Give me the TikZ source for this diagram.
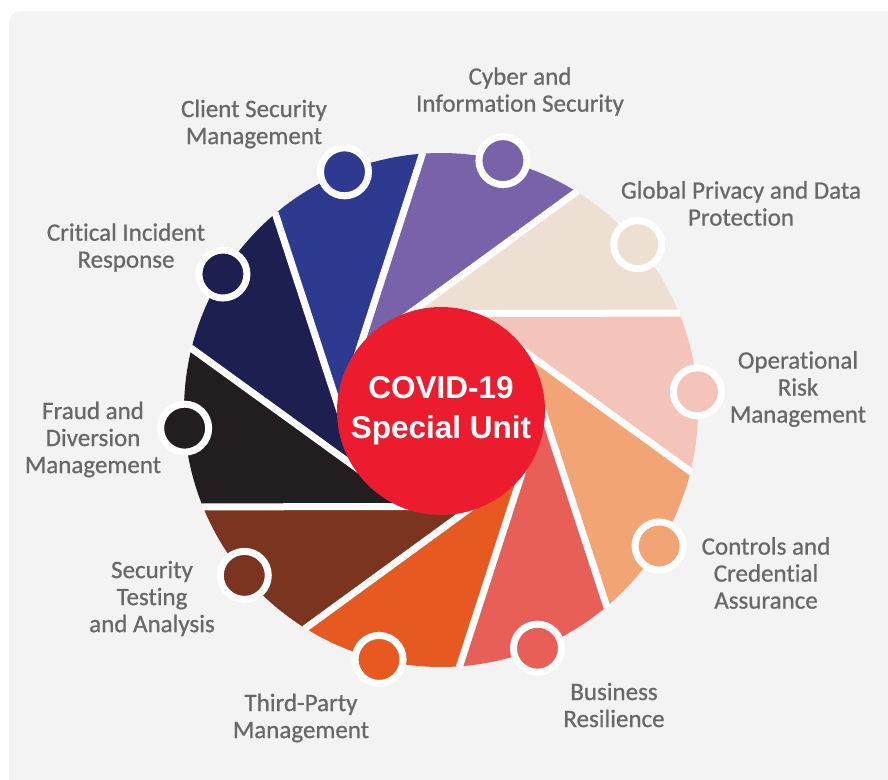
\documentclass[tikz,border=0pt]{standalone}
\usepackage{fontspec}
\setmainfont{Carlito}[Ligatures=NoCommon, FakeBold=0.7]
\newfontfamily\centerfont{Liberation Sans}
\definecolor{bggrey}{HTML}{F3F3F3}
\definecolor{labelgrey}{HTML}{686868}
\definecolor{cbeige}{HTML}{EDE0D2}
\definecolor{cpurple}{HTML}{7862A9}
\definecolor{cblue}{HTML}{2D3A8F}
\definecolor{cnavy}{HTML}{1D1F50}
\definecolor{cblack}{HTML}{221E1F}
\definecolor{cbrown}{HTML}{7B3420}
\definecolor{corange}{HTML}{E65A22}
\definecolor{ccoral}{HTML}{E85F58}
\definecolor{cpeach}{HTML}{F3A474}
\definecolor{cpink}{HTML}{F4C3BA}
\definecolor{cred}{HTML}{EC1C2E}
\begin{document}
\begin{tikzpicture}[x=1pt,y=-1pt,
  lbl/.style={align=center, text=labelgrey, font=\fontsize{25}{27}\selectfont, inner sep=0pt},
  dotnode/.style={circle, draw=white, line width=7pt, minimum size=48pt, inner sep=0pt},
  sepline/.style={white, line width=7pt}]
\useasboundingbox (0,0) rectangle (888,779);
\fill[white] (0,0) rectangle (888,779);
\fill[bggrey, rounded corners=12pt] (9,11) rectangle (905,800);
\def\cx{441}
\def\cy{410}
\def\R{257}
\def\rt{96.5}
\pgfmathsetmacro\al{acos(\rt/\R)}
% blades
\foreach \k/\col in {0/cbeige,1/cpurple,2/cblue,3/cnavy,4/cblack,5/cbrown,6/corange,7/ccoral,8/cpeach,9/cpink}{
  \pgfmathsetmacro\ph{90+36*\k}
  \pgfmathsetmacro\phn{\ph+36}
  \pgfmathsetmacro\aA{\ph-\al}
  \pgfmathsetmacro\aB{\phn-\al}
  \fill[\col] (\cx,\cy) -- ({\cx+\rt*cos(\ph)},{\cy-\rt*sin(\ph)})
     -- ({\cx+\R*cos(\aA)},{\cy-\R*sin(\aA)})
     arc[start angle={-\aA}, end angle={-\aB}, radius=\R]
     -- ({\cx+\rt*cos(\phn)},{\cy-\rt*sin(\phn)}) -- cycle;
}
% separators
\foreach \k in {0,...,9}{
  \pgfmathsetmacro\ph{90+36*\k}
  \pgfmathsetmacro\aA{\ph-\al}
  \coordinate (t\k) at ({\cx+\rt*cos(\ph)},{\cy-\rt*sin(\ph)});
  \coordinate (o\k) at ({\cx+(\R+1)*cos(\aA)},{\cy-(\R+1)*sin(\aA)});
  \draw[sepline] (t\k) -- (o\k);
}
% dots
\foreach \k/\col in {0/cbeige,1/cpurple,2/cblue,3/cnavy,4/cblack,5/cbrown,6/corange,7/ccoral,8/cpeach,9/cpink}{
  \pgfmathsetmacro\am{90+36*\k-\al+18}
  \node[dotnode, fill=\col] (dot\k) at ({\cx+\R*cos(\am)},{\cy-\R*sin(\am)}) {};
}
% centre
\node[circle, fill=cred, minimum size=208pt, inner sep=0pt, text=white,
      align=center, font=\centerfont\bfseries\fontsize{31.5}{40}\selectfont] (centre) at (441,411)
      {COVID-19\\Special Unit};
% labels
\node[lbl] (cyber) at (520,91.5) {Cyber and\\Information Security};
\node[lbl] (client) at (254,124) {Client Security\\Management};
\node[lbl] (global) at (741,203.5) {Global Privacy and Data\\Protection};
\node[lbl] (critical) at (126,247.5) {Critical Incident\\Response};
\node[lbl] (fraud) at (93,439.5) {Fraud and\\Diversion\\Management};
\node[lbl] (sectest) at (152,598.5) {Security\\Testing\\and Analysis};
\node[lbl] (third) at (301,718) {Third-Party\\Management};
\node[lbl] (business) at (614,705) {Business\\Resilience};
\node[lbl] (oprisk) at (798,389) {Operational\\Risk\\Management};
\node[lbl] (controls) at (766,573) {Controls and\\Credential\\Assurance};
\end{tikzpicture}
\end{document}
